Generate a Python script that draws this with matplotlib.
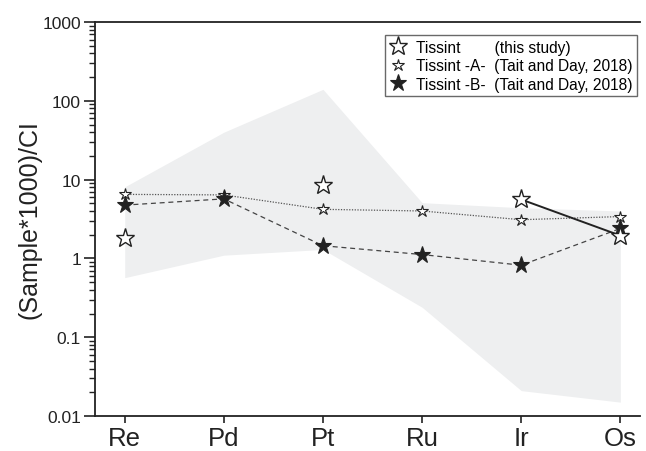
import numpy as np
import matplotlib
matplotlib.use("Agg")
import matplotlib.pyplot as plt
from matplotlib.ticker import LogLocator, NullFormatter, FixedLocator, FixedFormatter

plt.rcParams['font.family'] = ['Liberation Sans', 'DejaVu Sans']

# HSE normalised values
elements = ["Re", "Pd", "Pt", "Ru", "Ir", "Os"]
tissint_this = [1.8, np.nan, 8.5, np.nan, 5.6, 1.95]
tissint_a = [6.5, 6.4, 4.2, 4.0, 3.1, 3.4]
tissint_b = [4.75, 5.7, 1.45, 1.12, 0.82, 2.4]
# grey field (range of other shergottites)
field_upper = [8.1, 40, 140, 5.1, 4.4, 4.0]
field_lower = [0.57, 1.1, 1.3, 0.24, 0.021, 0.015]

yticks = [0.01, 0.1, 1, 10, 100, 1000]
ytick_labels = ["0.01", "0.1", "1", "10", "100", "1000"]

fig = plt.figure(figsize=(6.46, 4.52), dpi=100)
ax = fig.add_axes([0.147, 0.0774, 0.844, 0.8716])

x = np.arange(len(elements))

ax.fill_between(x, field_lower, field_upper, color="#eeeff0", lw=0, zorder=1)

ax.plot(x, tissint_a, ls=(0, (1, 1.2)), color="#555555", lw=0.9, zorder=2,
        marker="*", ms=9, mfc="white", mec="#222222", mew=0.8,
        label="Tissint -A-  (Tait and Day, 2018)")
ax.plot(x, tissint_b, ls=(0, (4, 3)), color="#444444", lw=0.9, zorder=3,
        marker="*", ms=12.5, mfc="#222222", mec="#222222", mew=0.8,
        label="Tissint -B-  (Tait and Day, 2018)")
ax.plot(x, tissint_this, ls="-", color="#222222", lw=1.4, zorder=4,
        marker="*", ms=14, mfc="white", mec="#222222", mew=1.0,
        label="Tissint        (this study)")

ax.set_yscale("log")
ax.set_ylim(0.01, 1000)
ax.set_xlim(-0.3, 5.2)

ax.yaxis.set_major_locator(FixedLocator(yticks))
ax.yaxis.set_major_formatter(FixedFormatter(ytick_labels))
ax.yaxis.set_minor_locator(LogLocator(base=10, subs=np.arange(2, 10), numticks=20))
ax.yaxis.set_minor_formatter(NullFormatter())

ax.set_xticks(x)
ax.set_xticklabels(elements, fontsize=18.5)
ax.tick_params(axis="y", which="major", direction="out", length=8, width=1.2,
               labelsize=12.5, colors="#222222", pad=2)
ax.tick_params(axis="y", which="minor", direction="out", length=4, width=1.0,
               colors="#222222")
ax.tick_params(axis="x", which="major", direction="out", length=5, width=1.2,
               colors="#222222", pad=2)
for lab in ax.get_xticklabels() + ax.get_yticklabels():
    lab.set_color("#222222")

ax.spines["right"].set_visible(False)
for s in ["left", "top", "bottom"]:
    ax.spines[s].set_linewidth(1.3)
    ax.spines[s].set_color("#222222")

ax.set_ylabel("(Sample*1000)/CI", fontsize=18, color="#222222", labelpad=1)

handles, labels = ax.get_legend_handles_labels()
order = [2, 0, 1]
leg_handles = []
for i in order:
    h = handles[i]
    leg_handles.append(plt.Line2D([], [], ls="none", marker="*", ms=h.get_markersize(),
                                  mfc=h.get_markerfacecolor(), mec=h.get_markeredgecolor(),
                                  mew=h.get_markeredgewidth()))
leg = ax.legend(leg_handles, [labels[i] for i in order], loc="upper right",
                bbox_to_anchor=(1.0, 0.975), fontsize=11.2, frameon=True,
                fancybox=False, edgecolor="#444444", handlelength=1.1,
                handletextpad=0.6, borderpad=0.3, labelspacing=0.22,
                borderaxespad=0.2)
leg.get_frame().set_linewidth(1.0)

fig.savefig("out.png", dpi=100)
